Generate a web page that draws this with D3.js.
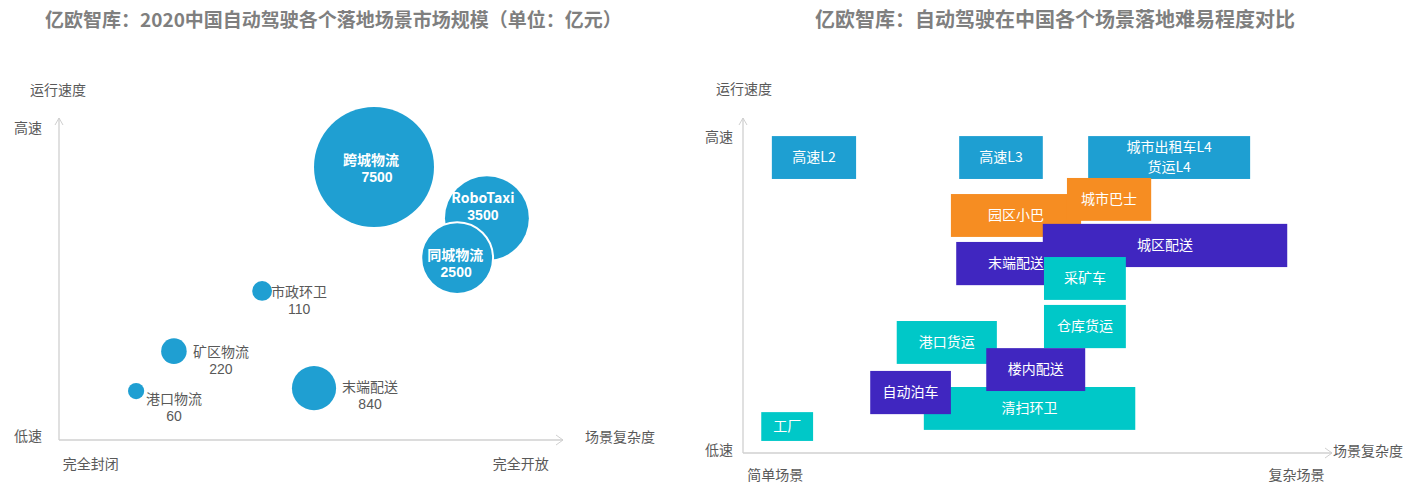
<!DOCTYPE html>
<html>
<head>
<meta charset="utf-8">
<script src="https://cdn.jsdelivr.net/npm/d3@7"></script>
<style>
body { margin: 0; background: #fff; }
svg text { font-family: "Noto Sans CJK SC", "Noto Sans", sans-serif; }
svg text.num { font-family: "Liberation Sans", Arial, sans-serif; }
</style>
</head>
<body>
<svg id="chart"></svg>
<script>
// ---- left chart: market size per scene (亿元)
const marketNames = ["跨城物流", "RoboTaxi", "同城物流", "市政环卫", "矿区物流", "港口物流", "末端配送"]
const marketValues = [7500, 3500, 2500, 110, 220, 60, 840]
const marketComplexity = [62.5, 84.9, 79.0, 40.3, 22.8, 15.3, 50.6]
const marketSpeed = [84.8, 68.9, 56.5, 46.3, 27.6, 15.2, 16.1]
const leftXTicks = [6.2, 91.5]
const leftXLabels = ["完全封闭", "完全开放"]
const leftYTicks = [96.9, 1.2]
const leftYLabels = ["高速", "低速"]

// ---- right chart: difficulty of each scene (ranges on both axes)
const sceneNames = ["高速L2", "高速L3", "城市出租车L4\n货运L4", "园区小巴", "城市巴士", "末端配送", "城区配送",
    "采矿车", "仓库货运", "港口货运", "清扫环卫", "楼内配送", "自动泊车", "工厂"]
const sceneGroup = ["road", "road", "road", "bus", "bus", "delivery", "delivery",
    "closed", "closed", "closed", "closed", "delivery", "delivery", "closed"]
const sceneX0 = [4.9, 36.7, 58.6, 35.3, 55.0, 36.2, 50.9, 51.1, 51.1, 26.1, 30.7, 41.3, 21.6, 3.1]
const sceneX1 = [19.2, 50.9, 86.1, 57.4, 69.3, 56.5, 92.4, 65.0, 65.0, 43.1, 66.6, 58.1, 35.3, 11.9]
const sceneY0 = [81.8, 81.8, 81.8, 64.5, 69.3, 50.1, 55.5, 45.7, 31.3, 26.6, 6.9, 18.5, 11.6, 3.6]
const sceneY1 = [94.6, 94.6, 94.6, 77.3, 82.1, 63.0, 68.4, 58.5, 44.2, 39.4, 19.7, 31.3, 24.5, 12.2]
const rightXTicks = [5.4, 93.9]
const rightXLabels = ["简单场景", "复杂场景"]
const rightYTicks = [94.3, 0.9]
const rightYLabels = ["高速", "低速"]

const w = 1408
const h = 494
const grey = "#595959"
const axisGrey = "#d0d0d0"

const svg = d3.select("#chart").attr("width", w).attr("height", h)

function arrowAxes (x, y) {
    const x0 = x.range()[0], x1 = x.range()[1]
    const y0 = y.range()[0], y1 = y.range()[1]
    const g = svg.append("g").attr("fill", "none").attr("stroke", axisGrey).attr("stroke-width", 1.3)
    g.append("path").attr("d", `M${x0},${y0}H${x1}`)
    g.append("path").attr("d", `M${x0},${y0}V${y1}`)
    g.append("path").attr("d", `M${x1 - 7},${y0 - 5}L${x1},${y0}L${x1 - 7},${y0 + 5}`).attr("stroke-width", 1)
    g.append("path").attr("d", `M${x0 - 4},${y1 + 7}L${x0},${y1}L${x0 + 4},${y1 + 7}`).attr("stroke-width", 1)
}

function endLabels (x, y, xt, xl, yt, yl, xPad, yPad) {
    const xa = svg.append("g")
        .attr("transform", "translate(0," + y.range()[0] + ")")
        .call(d3.axisBottom(x).tickValues(xt).tickFormat((d, i) => xl[i]).tickSize(0).tickPadding(xPad))
    const ya = svg.append("g")
        .attr("transform", "translate(" + x.range()[0] + ",0)")
        .call(d3.axisLeft(y).tickValues(yt).tickFormat((d, i) => yl[i]).tickSize(0).tickPadding(yPad))
    for (const a of [xa, ya]) {
        a.select(".domain").remove()
        a.selectAll("text").attr("fill", grey).style("font-size", "14px")
            .style("font-family", "'Noto Sans CJK SC', sans-serif")
    }
}

// name line + value line (baselines)
function twoLines (g, x1, y1, x2, y2, a, b) {
    g.append("text").attr("x", x1).attr("y", y1).text(a)
    g.append("text").attr("class", "num").attr("x", x2).attr("y", y2).text(b)
}

// ================= left =================
const xL = d3.scaleLinear().domain([0, 100]).range([59, 563])
const yL = d3.scaleLinear().domain([0, 100]).range([440, 118])
const rL = d3.scaleSqrt().domain([0, 7500]).range([3, 60])

svg.append("text").attr("x", 45).attr("y", 27)
    .attr("fill", "#7f7f7f").style("font-size", "19px").style("font-weight", "bold")
    .text("亿欧智库：2020中国自动驾驶各个落地场景市场规模（单位：亿元）")

arrowAxes(xL, yL)
endLabels(xL, yL, leftXTicks, leftXLabels, leftYTicks, leftYLabels, 19, 17)
svg.append("text").attr("x", 58).attr("y", 95).attr("text-anchor", "middle")
    .attr("fill", grey).style("font-size", "14px").text("运行速度")
svg.append("text").attr("x", 585).attr("y", 442)
    .attr("fill", grey).style("font-size", "14px").text("场景复杂度")

// label placement for each bubble: inside (centred) or outside (to the right)
const bubbleLabel = [
    { inside: true, nx: -3, ny: -2, vx: 3, vy: 15 },
    { inside: true, nx: -4, ny: -15, vx: -4, vy: 2 },
    { inside: true, nx: -2, ny: 2, vx: -1, vy: 19 },
    { inside: false, nx: 9, ny: 6 },
    { inside: false, nx: 19, ny: 6 },
    { inside: false, nx: 10, ny: 13 },
    { inside: false, nx: 28, ny: 4 }
]

const bubbles = svg.append("g")
bubbles.selectAll("circle")
    .data(marketNames)
    .enter()
    .append("circle")
    .attr("cx", (d, i) => xL(marketComplexity[i]))
    .attr("cy", (d, i) => yL(marketSpeed[i]))
    .attr("r", (d, i) => rL(marketValues[i]))
    .attr("fill", "#1f9fd2")
    .attr("stroke", (d, i) => i == 2 ? "#fff" : "none")
    .attr("stroke-width", 2)

marketNames.forEach((name, i) => {
    const cx = xL(marketComplexity[i])
    const cy = yL(marketSpeed[i])
    const p = bubbleLabel[i]
    const g = svg.append("g").style("font-size", "14px").attr("text-anchor", "middle")
    if (p.inside) {
        g.attr("fill", "#fff").style("font-weight", "bold")
        twoLines(g, cx + p.nx, cy + p.ny, cx + p.vx, cy + p.vy, name, marketValues[i])
    } else {
        g.attr("fill", grey)
        const mid = cx + p.nx + name.length * 7
        twoLines(g, mid, cy + p.ny, mid, cy + p.ny + 17, name, marketValues[i])
    }
})

// ================= right =================
const xR = d3.scaleLinear().domain([0, 100]).range([743, 1332])
const yR = d3.scaleLinear().domain([0, 100]).range([453, 118])
const colour = d3.scaleOrdinal()
    .domain(["road", "bus", "delivery", "closed"])
    .range(["#1e9fd2", "#f68d22", "#4026c0", "#00c8c8"])

svg.append("text").attr("x", 815).attr("y", 27)
    .attr("fill", "#7f7f7f").style("font-size", "20px").style("font-weight", "bold")
    .text("亿欧智库：自动驾驶在中国各个场景落地难易程度对比")

arrowAxes(xR, yR)
endLabels(xR, yR, rightXTicks, rightXLabels, rightYTicks, rightYLabels, 17, 10)
svg.append("text").attr("x", 744).attr("y", 94).attr("text-anchor", "middle")
    .attr("fill", grey).style("font-size", "14px").text("运行速度")
svg.append("text").attr("x", 1333).attr("y", 456)
    .attr("fill", grey).style("font-size", "14px").text("场景复杂度")

const scenes = svg.append("g")
const cell = scenes.selectAll("g")
    .data(sceneNames)
    .enter()
    .append("g")

cell.append("rect")
    .attr("x", (d, i) => xR(sceneX0[i]))
    .attr("y", (d, i) => yR(sceneY1[i]))
    .attr("width", (d, i) => xR(sceneX1[i]) - xR(sceneX0[i]))
    .attr("height", (d, i) => yR(sceneY0[i]) - yR(sceneY1[i]))
    .attr("fill", (d, i) => colour(sceneGroup[i]))

// text goes with its own box, so later boxes can cover it
cell.each(function (d, i) {
    const lines = d.split("\n")
    const cx = (xR(sceneX0[i]) + xR(sceneX1[i])) / 2
    const cy = (yR(sceneY0[i]) + yR(sceneY1[i])) / 2
    const t = d3.select(this).append("text")
        .attr("text-anchor", "middle").attr("fill", "#fff").style("font-size", "14px")
    lines.forEach((line, k) => {
        t.append("tspan").attr("x", cx)
            .attr("y", cy + (k - (lines.length - 1) / 2) * 20)
            .attr("dy", "0.35em").text(line)
    })
})
</script>
</body>
</html>
